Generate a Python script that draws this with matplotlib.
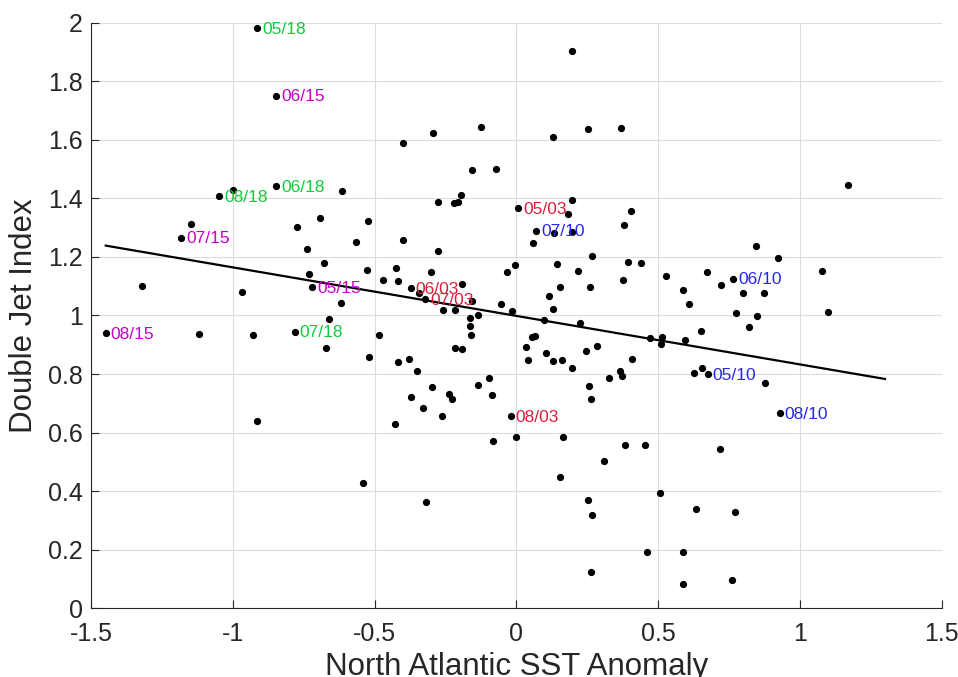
import matplotlib
matplotlib.use("Agg")
import matplotlib.pyplot as plt
import numpy as np

plt.rcParams['font.family'] = ['Liberation Sans', 'DejaVu Sans']

# North Atlantic SST anomaly (x) vs double jet index (y), one dot per case
sst = [
    -0.913, -0.847, -1.000, -1.047, -0.847, -0.614, -1.149, -1.182, -0.773, -0.694,
    -0.523, -0.740, -0.566, -0.679, -0.731, -0.525, -0.472, -1.320, -0.969, -0.720,
    -0.618, -0.660, -1.448, -1.118, -0.929, -0.781, -0.914, -0.671, -0.540, -0.520,
    -0.483, -0.400, -0.295, -0.277, -0.400, -0.277, -0.423, -0.417, -0.301, -0.372,
    -0.342, -0.321, 0.196, -0.126, 0.128, 0.252, 0.368, -0.156, -0.072, -0.221,
    -0.207, -0.194, 0.006, 0.196, 0.182, 0.404, 0.378, 0.070, 0.131, 0.196,
    0.060, 0.266, 0.395, 0.438, 0.144, -0.005, -0.034, 0.218, 0.376, 0.527,
    0.673, 0.587, 0.608, 0.154, 0.258, 0.115, 0.129, -0.193, -0.155, -0.257,
    -0.216, -0.053, -0.017, -0.163, -0.137, -0.164, -0.160, -0.218, -0.190, 0.099,
    0.226, 0.055, 0.067, 0.033, 0.040, 0.104, 0.129, 0.160, 0.197, 0.244,
    0.286, 0.366, 0.372, 0.325, 0.256, 0.263, -0.098, -0.137, -0.087, -0.226,
    -0.019, 0.000, -0.081, 0.166, 0.308, 0.383, 0.153, -0.318, 0.252, 0.268,
    0.264, 0.453, 0.506, 0.460, 0.588, 0.588, 0.634, -0.429, -0.262, -0.331,
    -0.239, -0.296, -0.372, -0.352, -0.378, -0.419, 0.407, 0.470, 0.513, 0.511,
    0.594, 0.652, 0.626, 0.653, 0.675, 0.801, 0.875, 0.775, 0.847, 0.819,
    0.876, 0.928, 0.717, 1.100, 0.761, 0.772, 0.721, 0.765, 0.844, 0.924,
    1.169, 1.079,
]
dji = [
    1.983, 1.751, 1.430, 1.407, 1.443, 1.426, 1.313, 1.266, 1.301, 1.334,
    1.324, 1.226, 1.252, 1.179, 1.143, 1.154, 1.121, 1.102, 1.081, 1.097,
    1.042, 0.987, 0.940, 0.936, 0.933, 0.945, 0.641, 0.890, 0.427, 0.858,
    0.934, 1.588, 1.622, 1.387, 1.257, 1.219, 1.161, 1.119, 1.149, 1.095,
    1.076, 1.056, 1.902, 1.644, 1.611, 1.637, 1.641, 1.496, 1.501, 1.383,
    1.387, 1.412, 1.367, 1.394, 1.348, 1.358, 1.308, 1.290, 1.281, 1.284,
    1.248, 1.204, 1.184, 1.178, 1.176, 1.171, 1.150, 1.151, 1.121, 1.136,
    1.149, 1.087, 1.039, 1.096, 1.098, 1.067, 1.023, 1.107, 1.050, 1.019,
    1.018, 1.038, 1.015, 0.990, 1.001, 0.965, 0.933, 0.889, 0.885, 0.986,
    0.975, 0.928, 0.930, 0.891, 0.848, 0.871, 0.844, 0.849, 0.820, 0.880,
    0.896, 0.810, 0.793, 0.787, 0.758, 0.714, 0.786, 0.762, 0.727, 0.715,
    0.658, 0.585, 0.570, 0.584, 0.504, 0.557, 0.447, 0.363, 0.370, 0.319,
    0.123, 0.559, 0.394, 0.193, 0.193, 0.083, 0.338, 0.629, 0.658, 0.685,
    0.732, 0.755, 0.720, 0.810, 0.850, 0.842, 0.850, 0.924, 0.928, 0.903,
    0.916, 0.947, 0.803, 0.822, 0.801, 1.076, 1.076, 1.007, 0.999, 0.960,
    0.771, 0.668, 0.544, 1.013, 0.098, 0.330, 1.103, 1.126, 1.237, 1.195,
    1.445, 1.153,
]

# labelled cases (month/case id), grouped by colour
tag_text = ['05/18', '06/18', '07/18', '08/18',
            '05/15', '06/15', '07/15', '08/15',
            '05/03', '06/03', '07/03', '08/03',
            '05/10', '06/10', '07/10', '08/10']
tag_x = [-0.913, -0.847, -0.781, -1.047,
         -0.720, -0.847, -1.182, -1.448,
         0.006, -0.372, -0.321, -0.019,
         0.675, 0.765, 0.070, 0.928]
tag_y = [1.983, 1.443, 0.945, 1.407,
         1.097, 1.751, 1.266, 0.940,
         1.367, 1.095, 1.056, 0.658,
         0.801, 1.126, 1.290, 0.668]
tag_color = ['#10cc3a'] * 4 + ['#c800c8'] * 4 + ['#dc1e3c'] * 4 + ['#2626f2'] * 4

fit_xmax = 1.3

sst = np.array(sst)
dji = np.array(dji)

fig = plt.figure(figsize=(9.58, 6.77), dpi=100)
ax = fig.add_axes([0.095, 0.1015, 0.888, 0.865])

ax.plot(sst, dji, 'o', color='black', ms=4.2, mec='black', zorder=3)

slope, icept = np.polyfit(sst, dji, 1)
xl = np.array([sst.min(), fit_xmax])
ax.plot(xl, icept + slope * xl, color='black', lw=1.6, zorder=2)

for t, x, y, c in zip(tag_text, tag_x, tag_y, tag_color):
    ax.annotate(t, (x, y), xytext=(3.5, -1), textcoords='offset points',
                va='center', ha='left', color=c, fontsize=12.5, zorder=4)

ax.set_xlim(-1.5, 1.5)
ax.set_ylim(0, 2)
ax.set_xticks(np.arange(-1.5, 1.51, 0.5))
ax.set_yticks(np.arange(0, 2.01, 0.2))
ax.xaxis.set_major_formatter(matplotlib.ticker.FormatStrFormatter('%g'))
ax.yaxis.set_major_formatter(matplotlib.ticker.FormatStrFormatter('%g'))
ax.tick_params(direction='in', length=6, width=0.8, colors='#262626',
               labelsize=18)
ax.tick_params(axis='x', pad=10)
ax.tick_params(axis='y', pad=6)
ax.grid(True, color='#dcdcdc', lw=0.8)
ax.set_axisbelow(True)
for s in ['top', 'right']:
    ax.spines[s].set_visible(False)
for s in ['left', 'bottom']:
    ax.spines[s].set_color('#262626')
    ax.spines[s].set_linewidth(0.8)

ax.set_xlabel('North Atlantic SST Anomaly', fontsize=22.5, color='#262626',
              labelpad=4)
ax.set_ylabel('Double Jet Index', fontsize=22.5, color='#262626', labelpad=6)

fig.savefig('out.png', dpi=100)
